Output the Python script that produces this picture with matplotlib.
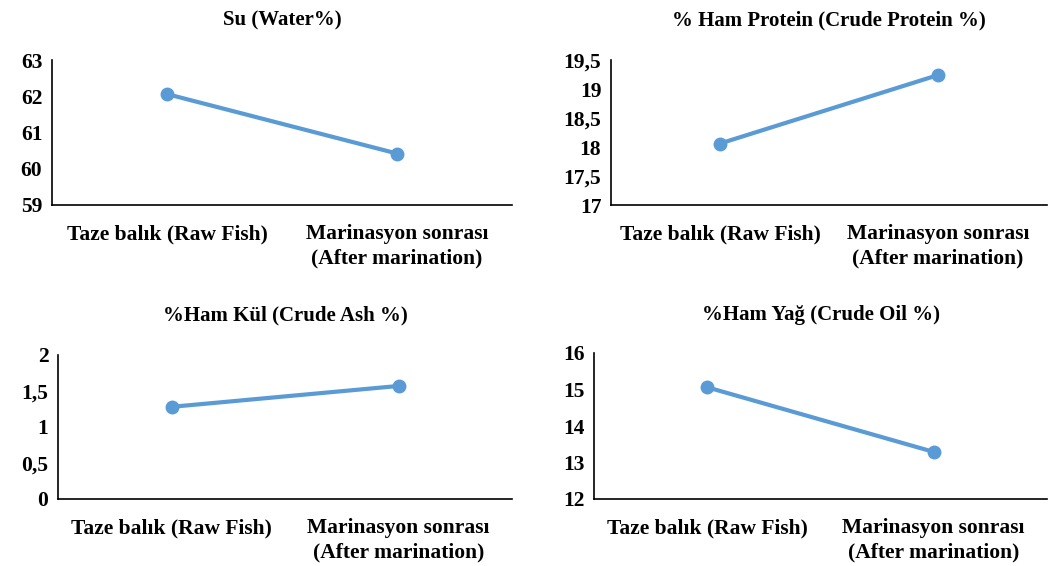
import matplotlib
matplotlib.use("Agg")
import matplotlib.pyplot as plt
from matplotlib.ticker import FuncFormatter

plt.rcParams['font.family'] = ['Liberation Serif', 'DejaVu Serif']
plt.rcParams['font.weight'] = 'bold'

categories = ["Taze balık (Raw Fish)", "Marinasyon sonrası\n(After marination)"]

titles = ["Su (Water%)", "% Ham Protein (Crude Protein %)",
          "%Ham Kül (Crude Ash %)", "%Ham Yağ (Crude Oil %)"]

water = [62.06, 60.42]
protein = [18.06, 19.24]
ash = [1.28, 1.57]
oil = [15.06, 13.29]

water_ticks = [59, 60, 61, 62, 63]
protein_ticks = [17, 17.5, 18, 18.5, 19, 19.5]
ash_ticks = [0, 0.5, 1, 1.5, 2]
oil_ticks = [12, 13, 14, 15, 16]

series = [water, protein, ash, oil]
ticks = [water_ticks, protein_ticks, ash_ticks, oil_ticks]

W, H = 1049, 566
fig = plt.figure(figsize=(W / 100, H / 100), dpi=100)

# axes boxes in pixel coords: left, top, right, bottom
boxes = [(52, 60, 512, 205), (611, 60, 1047, 205),
         (58, 355, 512, 499), (594, 353, 1047, 499)]
title_y = [20, 20, 315, 315]

color = '#5B9BD5'
fmt = FuncFormatter(lambda v, p: ('%g' % v).replace('.', ','))

for i, (l, t, r, b) in enumerate(boxes):
    ax = fig.add_axes([l / W, 1 - b / H, (r - l) / W, (b - t) / H])
    x = list(range(len(categories)))
    ax.plot(x, series[i], color=color, linewidth=3.0, marker='o', markersize=9,
            solid_capstyle='round')
    ax.set_xlim(-0.5, 1.5)
    ax.set_ylim(ticks[i][0], ticks[i][-1])
    ax.set_yticks(ticks[i])
    ax.yaxis.set_major_formatter(fmt)
    ax.set_xticks(x)
    ax.set_xticklabels(categories, fontsize=15.5, fontweight='bold', linespacing=1.3)
    ax.tick_params(axis='both', length=0, labelsize=15.5)
    ax.tick_params(axis='x', pad=14)
    ax.tick_params(axis='y', pad=7)
    for lab in ax.get_yticklabels():
        lab.set_fontweight('bold')
    for s in ['top', 'right']:
        ax.spines[s].set_visible(False)
    for s in ['left', 'bottom']:
        ax.spines[s].set_color('black')
        ax.spines[s].set_linewidth(1.2)
    cx = (l + r) / 2 / W
    fig.text(cx, 1 - title_y[i] / H, titles[i], ha='center', va='center',
             fontsize=15, fontweight='bold')

fig.savefig("out.png", dpi=100)
